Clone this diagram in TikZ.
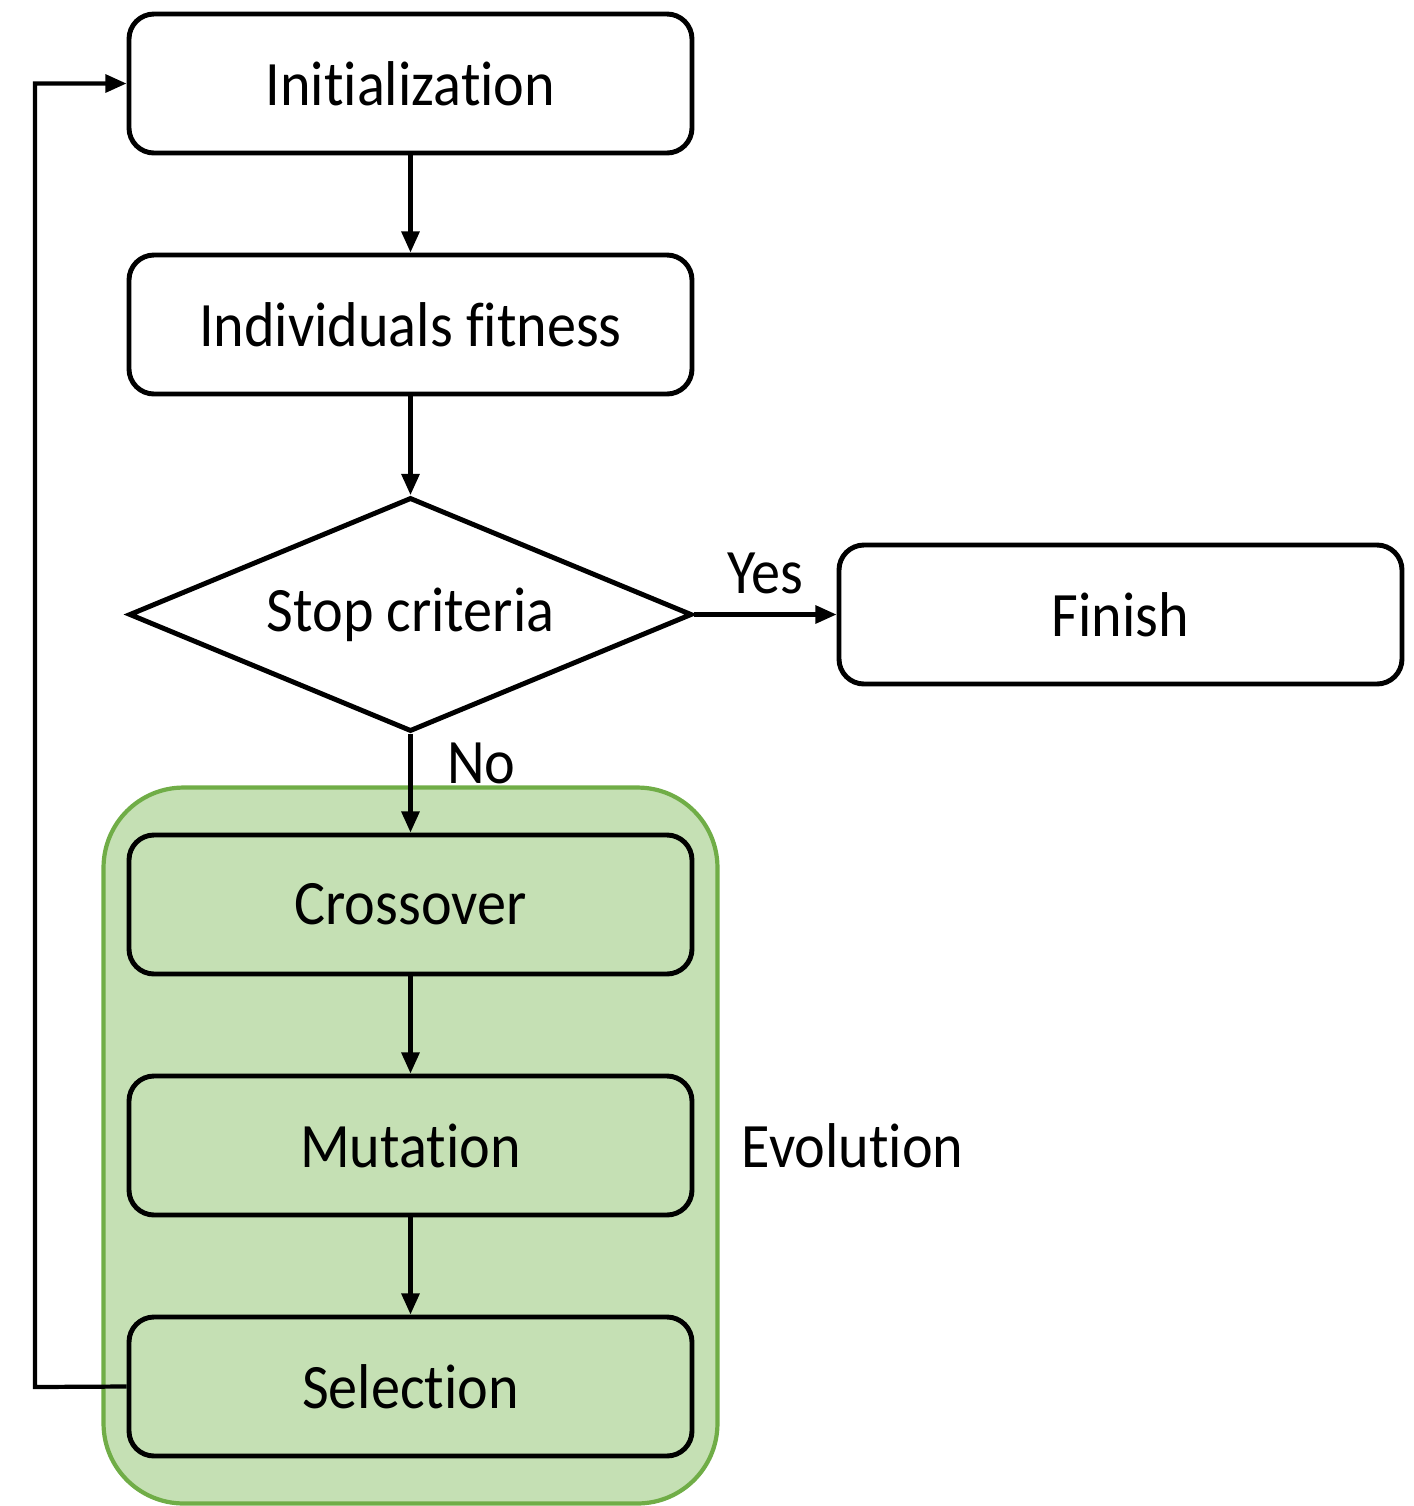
\documentclass[tikz,border=0pt]{standalone}
\usepackage{fontspec}
\setmainfont{Carlito}[FakeStretch=0.92,Ligatures=NoCommon]
\usetikzlibrary{shapes.geometric,arrows.meta,fit,backgrounds,positioning}
\definecolor{evofill}{HTML}{C5E0B4}
\definecolor{evoline}{HTML}{70AD47}
\begin{document}
\begin{tikzpicture}[node distance=2.41cm,font=\fontsize{18}{22}\selectfont]
\tikzstyle{block}=[draw,line width=1.4pt,rounded corners=0.25cm,minimum width=5.63cm,minimum height=1.39cm]
\tikzstyle{evostep}=[block,fill=evofill]
\tikzstyle{decision}=[draw,line width=1.4pt,diamond,aspect=2.4,inner sep=0pt,minimum width=5.63cm,minimum height=2.34cm]
\tikzstyle{line}=[line width=1.2pt,-{Triangle[length=6pt,width=5pt]}]
\useasboundingbox (0,0) rectangle (14.13,-15.06);
\node[block] (init) at (4.105,-0.835) {Initialization};
\node[block] (fit) [below of=init] {Individuals fitness};
\node[decision] (stop) [below of=fit,node distance=2.9cm] {Stop criteria};
\node[block] (finish) [right of=stop,node distance=7.1cm] {Finish};
\node[evostep] (cross) [below of=stop,node distance=2.9cm] {Crossover};
\node[evostep] (mut) [below of=cross] {Mutation};
\node[evostep] (sel) [below of=mut] {Selection};
% green group behind the evolution steps
\begin{scope}[on background layer]
\node[fit=(cross)(sel),inner xsep=0.23cm,inner ysep=0.45cm,rounded corners=0.8cm,
  draw=evoline,line width=1.2pt,fill=evofill] (evo) {};
\end{scope}
\node (evolabel) [right=0.1cm of evo.east,anchor=west] {Evolution};
\coordinate (back) at (0.35,-13.87);
\draw[line] (init) -- (fit);
\draw[line] (fit) -- (stop);
\draw[line] (stop) -- (finish) node[midway,above=2pt] {Yes};
\draw[line] (stop) -- (cross) node[pos=0.3,right=0.23cm] {No};
\draw[line] (cross) -- (mut);
\draw[line] (mut) -- (sel);
\draw[line] (sel.west) -- (back) |- (init.west);
\end{tikzpicture}
\end{document}
